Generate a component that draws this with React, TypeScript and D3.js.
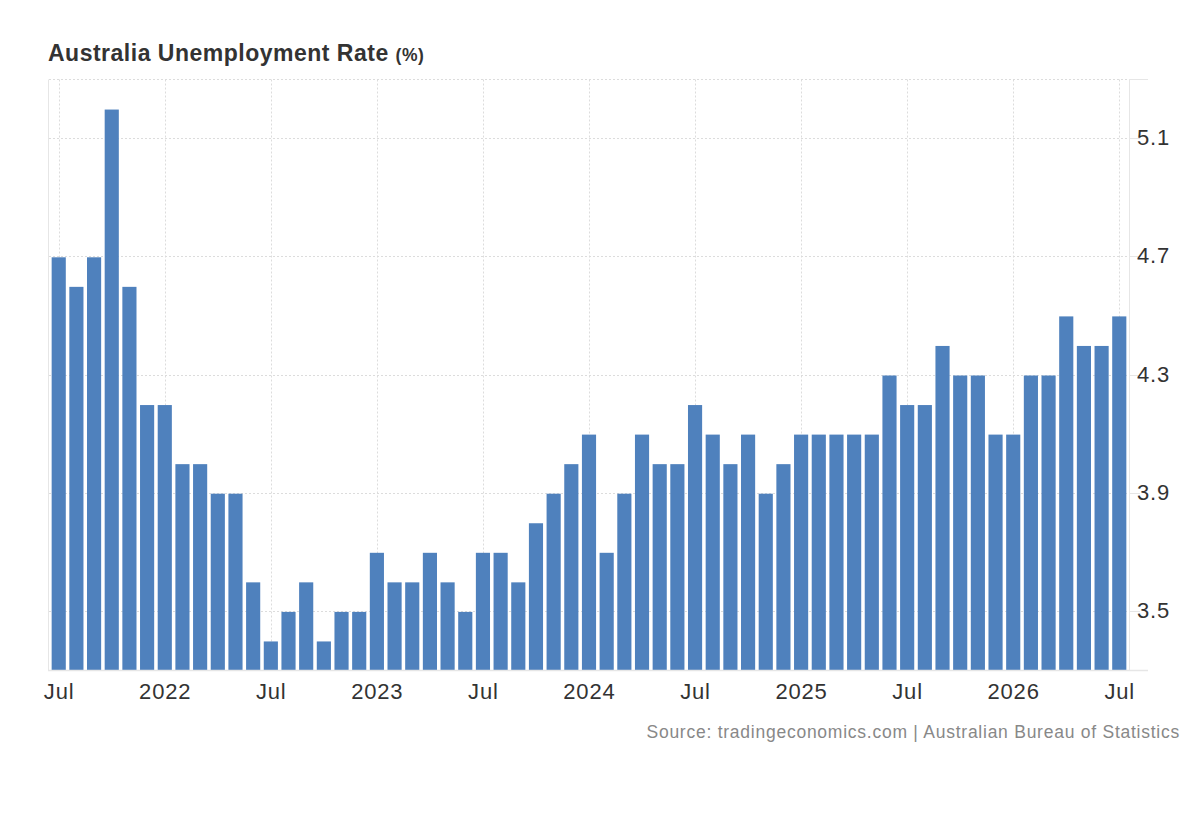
import { scaleBand, scaleLinear, timeMonth, timeFormat } from "d3";

const months = timeMonth.range(new Date(2021, 6, 1), new Date(2026, 7, 1)).map(timeFormat("%Y-%m"));

const rates = [
  4.7, 4.6, 4.7, 5.2, 4.6, 4.2,
  4.2, 4.0, 4.0, 3.9, 3.9, 3.6,
  3.4, 3.5, 3.6, 3.4, 3.5, 3.5,
  3.7, 3.6, 3.6, 3.7, 3.6, 3.5,
  3.7, 3.7, 3.6, 3.8, 3.9, 4.0,
  4.1, 3.7, 3.9, 4.1, 4.0, 4.0,
  4.2, 4.1, 4.0, 4.1, 3.9, 4.0,
  4.1, 4.1, 4.1, 4.1, 4.1, 4.3,
  4.2, 4.2, 4.4, 4.3, 4.3, 4.1,
  4.1, 4.3, 4.3, 4.5, 4.4, 4.4,
  4.5,
];

const xTicks = [
  { month: "2021-07", label: "Jul" },
  { month: "2022-01", label: "2022" },
  { month: "2022-07", label: "Jul" },
  { month: "2023-01", label: "2023" },
  { month: "2023-07", label: "Jul" },
  { month: "2024-01", label: "2024" },
  { month: "2024-07", label: "Jul" },
  { month: "2025-01", label: "2025" },
  { month: "2025-07", label: "Jul" },
  { month: "2026-01", label: "2026" },
  { month: "2026-07", label: "Jul" },
];

const yTicks = [3.5, 3.9, 4.3, 4.7, 5.1];

const App = () => {
  const width = 1200;
  const height = 820;
  const left = 49;
  const right = 1129;
  const top = 80;
  const bottom = 671;

  const xScale = scaleBand()
    .domain(months)
    .range([left, right])
    .paddingInner(0.2)
    .paddingOuter(0.15);
  const yScale = scaleLinear().domain([3.3, 5.3]).range([bottom, top]);

  const bw = xScale.bandwidth();
  const axisY = bottom - 0.5;
  const font = "'Liberation Sans', Arial, sans-serif";
  const topY = Math.round(yScale(5.3)) - 0.5;

  return (
    <svg
      width={width}
      height={height}
      style={{ position: "absolute", left: 0, top: 0, background: "#fff" }}
      fontFamily={font}
    >
      <text x={48} y={61} fontSize="23px" fontWeight="bold" fill="#333" letterSpacing="0.5px">
        Australia Unemployment Rate{" "}
        <tspan fontSize="17.5px">(%)</tspan>
      </text>

      {/* grid */}
      {xTicks.map(({ month }) => {
        const x = Math.round(Number(xScale(month)) + bw / 2) + 0.5;
        return (
          <line
            key={`vg-${month}`}
            x1={x}
            x2={x}
            y1={topY}
            y2={axisY}
            stroke="#dcdcdc"
            strokeDasharray="2,2"
          />
        );
      })}
      {[...yTicks, 5.3].map((v) => {
        const y = Math.round(yScale(v)) - 0.5;
        return (
          <line
            key={`hg-${v}`}
            x1={left}
            x2={right}
            y1={y}
            y2={y}
            stroke="#dcdcdc"
            strokeDasharray="2,2"
          />
        );
      })}

      {/* bars */}
      {rates.map((v, i) => (
        <rect
          key={`bar-${months[i]}`}
          x={xScale(months[i])}
          y={yScale(v)}
          width={bw}
          height={bottom - yScale(v)}
          fill="#4f81bd"
        />
      ))}

      {/* axes */}
      <line x1={left - 0.5} x2={left - 0.5} y1={topY} y2={axisY} stroke="#e6e6e6" />
      <line x1={right + 0.5} x2={right + 0.5} y1={topY} y2={axisY} stroke="#e6e6e6" />
      <line x1={left - 1} x2={1148} y1={axisY} y2={axisY} stroke="#e6e6e6" strokeWidth={1.5} />
      <line x1={right} x2={1148} y1={topY} y2={topY} stroke="#e6e6e6" />
      {yTicks.map((v) => {
        const y = Math.round(yScale(v)) - 0.5;
        return (
          <g key={`yt-${v}`}>
            <line x1={right} x2={1140} y1={y} y2={y} stroke="#e6e6e6" />
            <text x={1137} y={y + 6.5} fontSize="22px" fill="#333" letterSpacing="0.8px">
              {v.toFixed(1)}
            </text>
          </g>
        );
      })}
      {xTicks.map(({ month, label }) => (
        <text
          key={`xt-${month}`}
          x={Number(xScale(month)) + bw / 2 + 0.4}
          y={699}
          fontSize="22px"
          fill="#333"
          textAnchor="middle"
          letterSpacing="0.8px"
        >
          {label}
        </text>
      ))}

      <text x={1180} y={738} fontSize="17.5px" fill="#888" textAnchor="end" letterSpacing="0.75px">
        Source: tradingeconomics.com | Australian Bureau of Statistics
      </text>
    </svg>
  );
};

export default App;
